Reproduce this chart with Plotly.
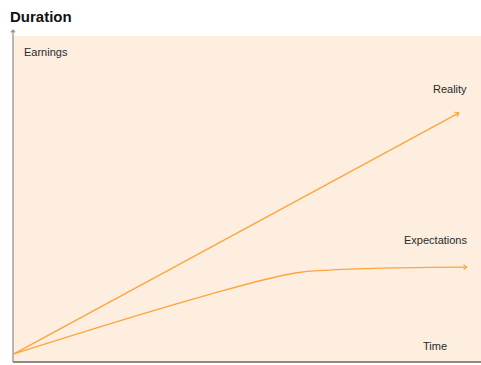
import math
import plotly.graph_objects as go

# ---- data (arbitrary units: time 0-100, earnings 0-100) ----
reality_time = [0.2, 95.3]
reality_earnings = [2.5, 76.4]
expect_time = [0.2, 40.0, 60.3, 67.7, 82.7, 97.0]
expect_earnings = [2.5, 19.9, 27.3, 28.2, 28.9, 29.1]
series_names = ["Reality", "Expectations"]
axis_labels = ["Earnings", "Time"]
title = "Duration"

W, H = 481, 365
ML, MR, MT, MB = 13, 0, 36, 3
PW, PH = W - ML - MR, H - MT - MB
XR, YR = [0, 100], [0, 100]
LINE = "#FFA43C"
BG = "#FDEEDF"
AX = "#8A8A8A"
FONT = "Liberation Sans, Arial, sans-serif"

fig = go.Figure()
for t, e, n in [(reality_time, reality_earnings, series_names[0]),
                (expect_time, expect_earnings, series_names[1])]:
    fig.add_trace(go.Scatter(x=t, y=e, mode="lines", name=n,
                             line=dict(color=LINE, width=1.3, shape="spline", smoothing=1.2),
                             hoverinfo="skip"))

def chevron(x0, y0, x1, y1, color, L=6, ang=35, xref="x", yref="y", sx=None, sy=None):
    sx = sx if sx is not None else PW / (XR[1] - XR[0])
    sy = sy if sy is not None else PH / (YR[1] - YR[0])
    dx, dy = (x1 - x0) * sx, -(y1 - y0) * sy
    n = math.hypot(dx, dy)
    ux, uy = dx / n, dy / n
    out = []
    for s in (1, -1):
        a = math.radians(ang * s)
        rx = ux * math.cos(a) - uy * math.sin(a)
        ry = ux * math.sin(a) + uy * math.cos(a)
        out.append(dict(x=x1, y=y1, xref=xref, yref=yref, text="", showarrow=True,
                        arrowhead=0, arrowwidth=1.2, arrowcolor=color,
                        ax=-L * rx, ay=-L * ry, axref="pixel", ayref="pixel"))
    return out

annots = []
annots += chevron(reality_time[-2], reality_earnings[-2], reality_time[-1], reality_earnings[-1], LINE)
annots += chevron(expect_time[-2], expect_earnings[-2], expect_time[-1], expect_earnings[-1], LINE)
annots += chevron(0, 0, 0, 1 + 6 / PH, AX, L=5, ang=40, xref="paper", yref="paper", sx=1, sy=1)

txt = dict(size=11, color="#2a2a2a", family=FONT)
annots += [
    dict(x=(22 - ML) / PW, y=1 - 16 / PH, xref="paper", yref="paper", text=axis_labels[0],
         showarrow=False, xanchor="left", yanchor="middle", font=txt),
    dict(x=(469 - ML) / PW, y=1 - (89 - MT) / PH, xref="paper", yref="paper", text=series_names[0],
         showarrow=False, xanchor="right", yanchor="middle", font=txt),
    dict(x=(469 - ML) / PW, y=1 - (240 - MT) / PH, xref="paper", yref="paper", text=series_names[1],
         showarrow=False, xanchor="right", yanchor="middle", font=txt),
    dict(x=(449 - ML) / PW, y=1 - (346 - MT) / PH, xref="paper", yref="paper", text=axis_labels[1],
         showarrow=False, xanchor="right", yanchor="middle", font=txt),
]

shapes = [
    dict(type="line", xref="paper", yref="paper", x0=0, x1=0, y0=0, y1=1 + 6 / PH,
         line=dict(color=AX, width=1.2)),
    dict(type="line", xref="paper", yref="paper", x0=0, x1=1, y0=0, y1=0,
         line=dict(color=AX, width=2)),
]

fig.update_layout(
    width=W, height=H, margin=dict(l=ML, r=MR, t=MT, b=MB),
    paper_bgcolor="white", plot_bgcolor=BG, showlegend=False,
    title=dict(text="<b>" + title + "</b>", x=10 / W, xanchor="left", xref="container",
               y=1 - 17 / H, yanchor="middle", yref="container",
               font=dict(size=15, color="#111111", family=FONT)),
    xaxis=dict(range=XR, visible=False, fixedrange=True),
    yaxis=dict(range=YR, visible=False, fixedrange=True),
    annotations=annots, shapes=shapes,
)
fig.write_html("out.html")
